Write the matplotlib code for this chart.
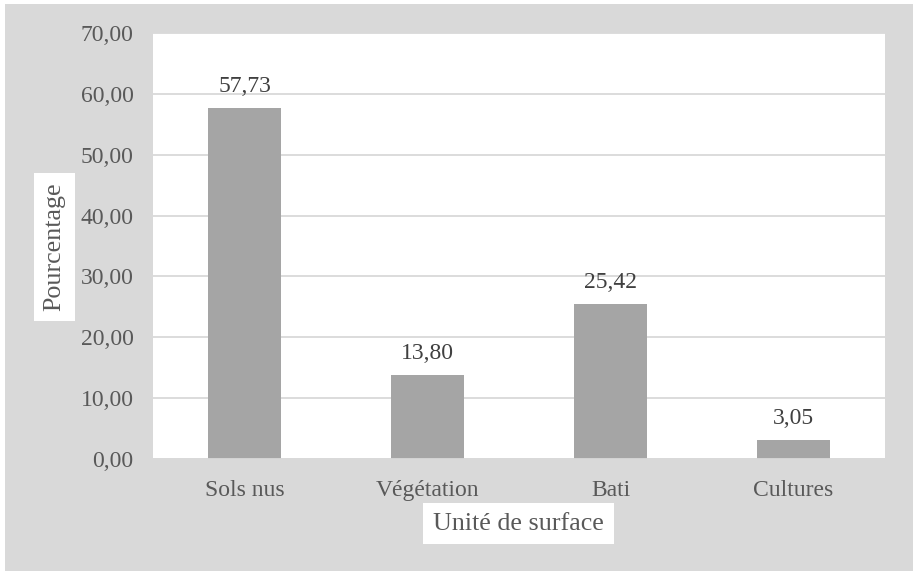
import matplotlib.pyplot as plt
from matplotlib.patches import Rectangle

categories = ['Sols nus', 'Végétation', 'Bati', 'Cultures']
percentages = [57.73, 13.80, 25.42, 3.05]
yticks = [0, 10, 20, 30, 40, 50, 60, 70]

plt.rcParams['font.family'] = ['Liberation Serif', 'DejaVu Serif']

W, H = 913, 571
fig = plt.figure(figsize=(W / 100, H / 100), dpi=100, facecolor='#D9D9D9')
# thin white margin along the top and left edges
fig.patches.append(Rectangle((0, 0), 5 / W, 1, transform=fig.transFigure,
                             facecolor='white', edgecolor='none'))
fig.patches.append(Rectangle((0, 1 - 4 / H), 1, 4 / H, transform=fig.transFigure,
                             facecolor='white', edgecolor='none'))

ax = fig.add_axes([153 / W, 1 - 459 / H, (885 - 153) / W, (459 - 33) / H])
ax.set_facecolor('white')

x = range(len(categories))
ax.bar(x, percentages, width=0.4, color='#A5A5A5', zorder=3)
for xi, v in zip(x, percentages):
    ax.annotate(f'{v:.2f}'.replace('.', ','), (xi, v), xytext=(0, 8), textcoords='offset points',
                ha='center', va='bottom', fontsize=17, color='#404040')

ax.set_xlim(-0.5, len(categories) - 0.5)
ax.set_ylim(0, 70)
ax.set_yticks(yticks)
ax.set_yticklabels([f'{t:.2f}'.replace('.', ',') for t in yticks], fontsize=17, color='#595959')
ax.set_xticks(list(x))
ax.set_xticklabels(categories, fontsize=17, color='#595959')
ax.tick_params(length=0, pad=14)
ax.tick_params(axis='x', pad=15)
ax.grid(axis='y', color='#D9D9D9', linewidth=1.3, zorder=0)
for s in ax.spines.values():
    s.set_visible(False)
ax.axhline(0, color='#D9D9D9', linewidth=1.3, zorder=4)

fig.text(54.5 / W, 1 - 247 / H, 'Pourcentage', rotation=90, ha='center', va='center', fontsize=18.7,
         color='#595959', bbox=dict(facecolor='white', edgecolor='none', pad=7))
fig.text(518.5 / W, 1 - 523.5 / H, 'Unité de surface', ha='center', va='center', fontsize=18.7,
         color='#595959', bbox=dict(facecolor='white', edgecolor='none', pad=7))

fig.savefig('out.png', dpi=100, facecolor=fig.get_facecolor())
